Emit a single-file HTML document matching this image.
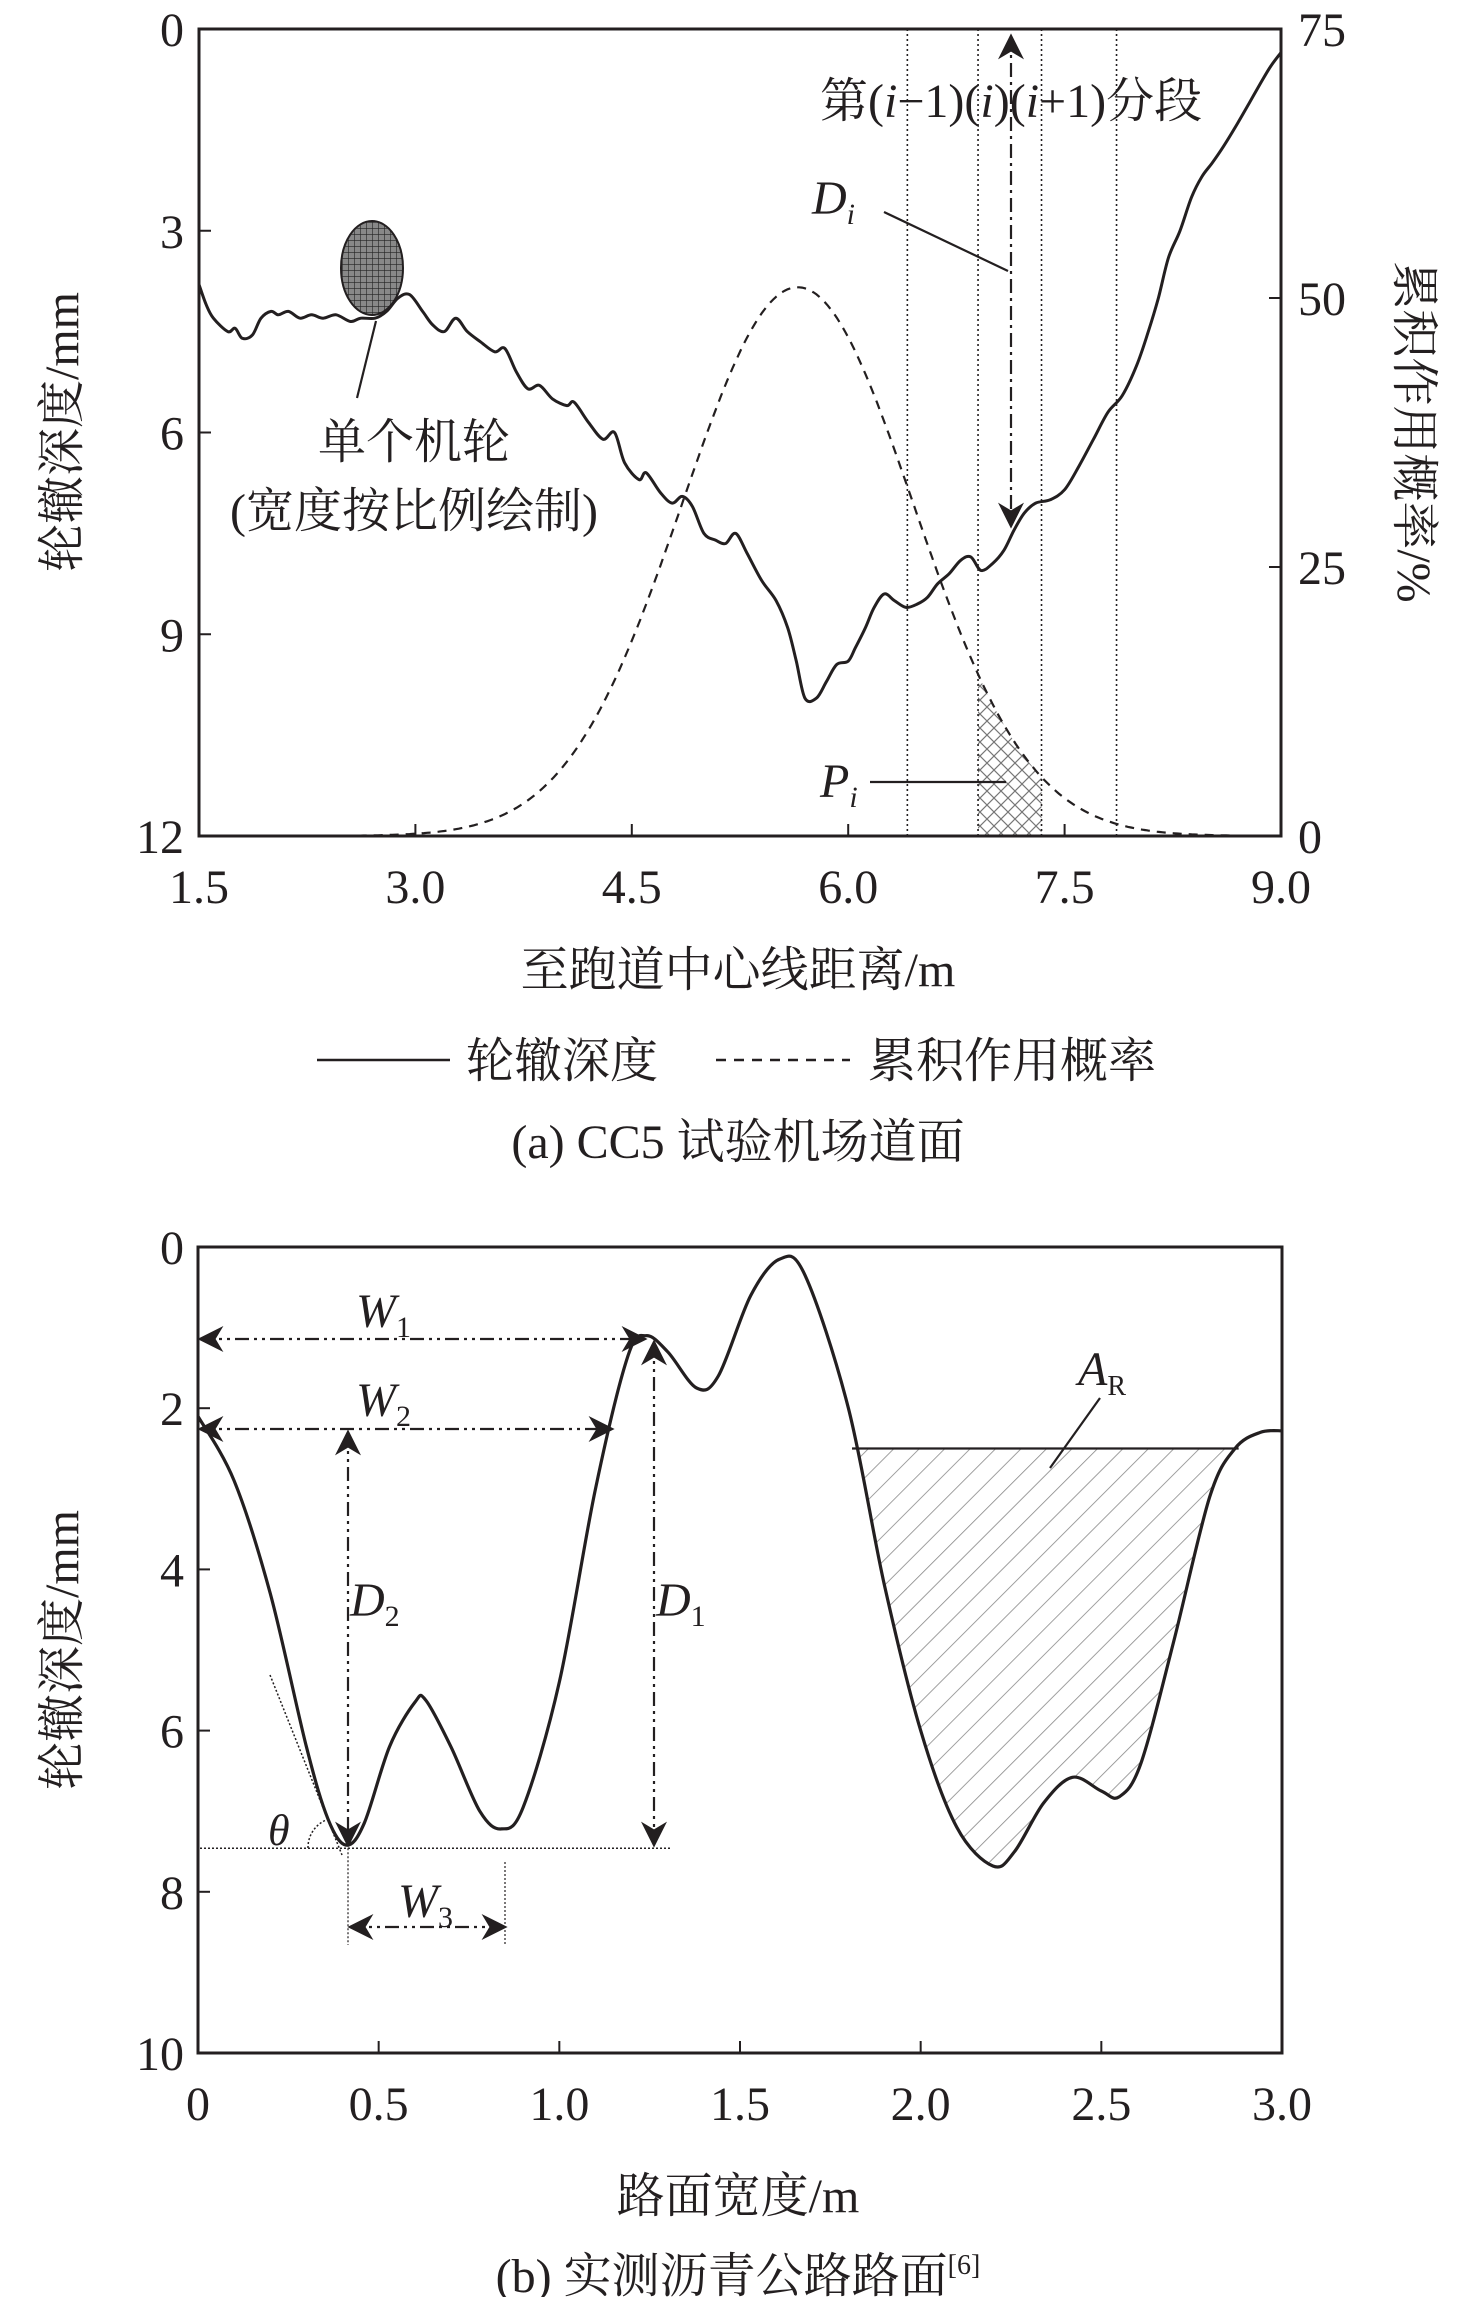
<!DOCTYPE html>
<html><head><meta charset="utf-8">
<style>
html,body{margin:0;padding:0;background:#fff;}
svg{display:block;}
text{font-family:"Liberation Serif","Noto Serif CJK SC","Noto Sans CJK SC",serif;fill:#231f20;}
</style></head>
<body>
<svg id="s" width="1476" height="2297" viewBox="0 0 1476 2297" xmlns="http://www.w3.org/2000/svg">
<defs>
<pattern id="grid" width="6" height="6" patternUnits="userSpaceOnUse">
<rect width="6" height="6" fill="#888"/>
<path d="M0 0H6M0 0V6" stroke="#222" stroke-width="1.2"/>
</pattern>
<pattern id="xh" width="14" height="14" patternUnits="userSpaceOnUse">
<path d="M0 0L14 14M14 0L0 14" stroke="#777" stroke-width="1.2"/>
</pattern>
<pattern id="diag" width="18" height="18" patternUnits="userSpaceOnUse" patternTransform="rotate(45)">
<path d="M0 0V18" stroke="#888" stroke-width="1.6"/>
</pattern>
<marker id="ahb" viewBox="0 0 10 10" refX="9" refY="5" markerWidth="30" markerHeight="26" orient="auto-start-reverse" markerUnits="userSpaceOnUse">
<path d="M0 0L10 5L0 10L3 5Z" fill="#231f20"/>
</marker>
</defs>
<g id="a"></g>
<g id="b"></g>
</svg>
<script>
const NS="http://www.w3.org/2000/svg";
function el(p,t,a,txt){const e=document.createElementNS(NS,t);for(const k in a)e.setAttribute(k,a[k]);if(txt!==undefined)e.innerHTML=txt;p.appendChild(e);return e;}
function cr(pts){let d="M"+pts[0][0].toFixed(1)+" "+pts[0][1].toFixed(1);for(let i=0;i<pts.length-1;i++){const p0=pts[Math.max(0,i-1)],p1=pts[i],p2=pts[i+1],p3=pts[Math.min(pts.length-1,i+2)];const c1=[p1[0]+(p2[0]-p0[0])/6,p1[1]+(p2[1]-p0[1])/6],c2=[p2[0]-(p3[0]-p1[0])/6,p2[1]-(p3[1]-p1[1])/6];d+=`C${c1[0].toFixed(1)} ${c1[1].toFixed(1)} ${c2[0].toFixed(1)} ${c2[1].toFixed(1)} ${p2[0].toFixed(1)} ${p2[1].toFixed(1)}`;}return d;}
const A=document.getElementById("a"),B=document.getElementById("b");
const FS=48;
// ---------- Plot a ----------
const L=199,R=1281,T=29,Bt=836;
const xa=x=>L+(x-1.5)*(R-L)/7.5, ya=d=>T+d*(Bt-T)/12, yp=p=>Bt-p*(Bt-T)/75;
let g=[];for(let x=2.6;x<=9.0001;x+=0.02){g.push([xa(x),yp(51*Math.exp(-Math.pow(x-5.65,2)/(2*0.8*0.8)))]);}
let h=[[xa(6.9),Bt]];for(let x=6.9;x<=7.3401;x+=0.02)h.push([xa(x),yp(51*Math.exp(-Math.pow(x-5.65,2)/1.28))]);h.push([xa(7.34),Bt]);
el(A,"path",{d:"M"+h.map(p=>p[0].toFixed(1)+" "+p[1].toFixed(1)).join("L")+"Z",fill:"url(#xh)",stroke:"none"});
el(A,"path",{d:"M"+g.map(p=>p[0].toFixed(1)+" "+p[1].toFixed(1)).join("L"),fill:"none",stroke:"#231f20","stroke-width":2.2,"stroke-dasharray":"9 7"});
const rd=[[1.5,3.8],[1.55,4.1],[1.6,4.3],[1.7,4.5],[1.75,4.45],[1.8,4.6],[1.87,4.55],[1.93,4.3],[2.0,4.2],[2.05,4.25],[2.12,4.2],[2.2,4.3],[2.28,4.25],[2.36,4.3],[2.45,4.25],[2.55,4.35],[2.62,4.3],[2.72,4.3],[2.8,4.2],[2.88,4.0],[2.96,3.95],[3.05,4.2],[3.12,4.4],[3.2,4.5],[3.28,4.3],[3.36,4.5],[3.45,4.65],[3.55,4.8],[3.62,4.75],[3.7,5.1],[3.78,5.35],[3.86,5.3],[3.95,5.5],[4.05,5.6],[4.1,5.55],[4.2,5.85],[4.3,6.1],[4.38,6.0],[4.45,6.45],[4.55,6.7],[4.6,6.6],[4.7,6.9],[4.78,7.05],[4.85,6.95],[4.92,7.1],[5.0,7.5],[5.08,7.6],[5.15,7.65],[5.22,7.5],[5.3,7.8],[5.4,8.2],[5.5,8.5],[5.58,8.9],[5.64,9.4],[5.7,9.95],[5.78,9.95],[5.85,9.7],[5.92,9.45],[6.0,9.4],[6.05,9.2],[6.12,8.9],[6.18,8.6],[6.25,8.4],[6.32,8.5],[6.4,8.6],[6.48,8.55],[6.55,8.45],[6.62,8.25],[6.7,8.1],[6.78,7.9],[6.85,7.85],[6.92,8.05],[7.0,7.95],[7.08,7.75],[7.15,7.45],[7.22,7.2],[7.3,7.05],[7.4,7.0],[7.5,6.85],[7.6,6.5],[7.7,6.1],[7.8,5.7],[7.9,5.45],[8.0,5.0],[8.08,4.5],[8.15,4.0],[8.22,3.4],[8.3,3.0],[8.38,2.5],[8.45,2.2],[8.52,2.0],[8.6,1.75],[8.7,1.4],[8.78,1.1],[8.86,0.8],[8.93,0.55],[9.0,0.35]];
el(A,"path",{d:cr(rd.map(p=>[xa(p[0]),ya(p[1])])),fill:"none",stroke:"#231f20","stroke-width":3});
[6.41,6.9,7.34,7.86].forEach(x=>el(A,"line",{x1:xa(x),y1:T,x2:xa(x),y2:Bt,stroke:"#231f20","stroke-width":1.6,"stroke-dasharray":"2 3"}));
el(A,"line",{x1:1011,y1:36,x2:1011,y2:526,stroke:"#231f20","stroke-width":2.2,"stroke-dasharray":"14 5 3 5","marker-start":"url(#ahb)","marker-end":"url(#ahb)"});
el(A,"rect",{x:L,y:T,width:R-L,height:Bt-T,fill:"none",stroke:"#231f20","stroke-width":3});
[3,6,9].forEach(d=>el(A,"line",{x1:L,y1:ya(d),x2:L+12,y2:ya(d),stroke:"#231f20","stroke-width":2}));
[25,50].forEach(p=>el(A,"line",{x1:R,y1:yp(p),x2:R-12,y2:yp(p),stroke:"#231f20","stroke-width":2}));
[3.0,4.5,6.0,7.5].forEach(x=>el(A,"line",{x1:xa(x),y1:Bt,x2:xa(x),y2:Bt-12,stroke:"#231f20","stroke-width":2}));
[0,3,6,9,12].forEach(d=>el(A,"text",{x:184,y:ya(d)+17,"text-anchor":"end","font-size":FS},d));
[0,25,50,75].forEach(p=>el(A,"text",{x:1298,y:yp(p)+17,"font-size":FS},p));
["1.5","3.0","4.5","6.0","7.5","9.0"].forEach(s=>el(A,"text",{x:xa(+s),y:903,"text-anchor":"middle","font-size":FS},s));
el(A,"text",{x:738,y:986,"text-anchor":"middle","font-size":FS},"至跑道中心线距离/m");
el(A,"text",{transform:"translate(78,432) rotate(-90)","text-anchor":"middle","font-size":FS},"轮辙深度/mm");
el(A,"text",{transform:"translate(1398,432) rotate(90)","text-anchor":"middle","font-size":FS},"累积作用概率/%");
el(A,"ellipse",{cx:372,cy:268,rx:31,ry:47,fill:"url(#grid)",stroke:"#231f20","stroke-width":2});
el(A,"line",{x1:376,y1:321,x2:357,y2:398,stroke:"#231f20","stroke-width":2.2});
el(A,"text",{x:414,y:458,"text-anchor":"middle","font-size":FS},"单个机轮");
el(A,"text",{x:414,y:527,"text-anchor":"middle","font-size":FS},"(宽度按比例绘制)");
el(A,"text",{x:820,y:117,"font-size":FS},"第(<tspan font-style='italic'>i</tspan>−1)(<tspan font-style='italic'>i</tspan>)(<tspan font-style='italic'>i</tspan>+1)分段");
el(A,"text",{x:812,y:214,"font-size":FS,"font-style":"italic"},"D<tspan font-size='30' dy='10'>i</tspan>");
el(A,"line",{x1:884,y1:212,x2:1008,y2:271,stroke:"#231f20","stroke-width":2.2});
el(A,"text",{x:820,y:797,"font-size":FS,"font-style":"italic"},"P<tspan font-size='30' dy='10'>i</tspan>");
el(A,"line",{x1:870,y1:782,x2:1006,y2:782,stroke:"#231f20","stroke-width":2.2});
el(A,"line",{x1:317,y1:1060,x2:450,y2:1060,stroke:"#231f20","stroke-width":2.5});
el(A,"text",{x:466,y:1077,"font-size":FS},"轮辙深度");
el(A,"line",{x1:716,y1:1060,x2:850,y2:1060,stroke:"#231f20","stroke-width":2.5,"stroke-dasharray":"10 8"});
el(A,"text",{x:868,y:1077,"font-size":FS},"累积作用概率");
el(A,"text",{x:738,y:1158,"text-anchor":"middle","font-size":FS},"(a) CC5 试验机场道面");
// ---------- Plot b ----------
const L2=198,R2=1282,T2=1247,B2=2053;
const xb=x=>L2+x*(R2-L2)/3, yb=d=>T2+d*(B2-T2)/10;
const cb=[[0,2.1],[0.1,2.9],[0.2,4.3],[0.3,6.2],[0.36,7.1],[0.41,7.42],[0.46,7.15],[0.53,6.2],[0.6,5.65],[0.63,5.62],[0.7,6.2],[0.78,7.0],[0.84,7.22],[0.9,6.95],[1.0,5.4],[1.1,3.0],[1.19,1.35],[1.24,1.1],[1.3,1.3],[1.38,1.75],[1.44,1.6],[1.53,0.6],[1.61,0.15],[1.68,0.35],[1.8,2.0],[1.9,4.2],[2.0,6.0],[2.1,7.2],[2.2,7.68],[2.26,7.5],[2.34,6.9],[2.42,6.58],[2.5,6.75],[2.55,6.82],[2.61,6.4],[2.7,4.9],[2.8,3.1],[2.87,2.5],[2.94,2.3],[3.0,2.28]];
const pb=cr(cb.map(p=>[xb(p[0]),yb(p[1])]));
el(B,"clipPath",{id:"cc"}).innerHTML=`<path d="${pb} L${xb(3)} ${T2} L${xb(0)} ${T2}Z"/>`;
el(B,"rect",{x:xb(1.8),y:yb(2.5),width:xb(2.88)-xb(1.8),height:B2-yb(2.5),fill:"url(#diag)","clip-path":"url(#cc)"});
el(B,"line",{x1:xb(1.81),y1:yb(2.5),x2:xb(2.88),y2:yb(2.5),stroke:"#231f20","stroke-width":2.2});
el(B,"path",{d:pb,fill:"none",stroke:"#231f20","stroke-width":3.2});
el(B,"rect",{x:L2,y:T2,width:R2-L2,height:B2-T2,fill:"none",stroke:"#231f20","stroke-width":3});
[2,4,6,8].forEach(d=>el(B,"line",{x1:L2,y1:yb(d),x2:L2+12,y2:yb(d),stroke:"#231f20","stroke-width":2}));
[0.5,1,1.5,2,2.5].forEach(x=>el(B,"line",{x1:xb(x),y1:B2,x2:xb(x),y2:B2-12,stroke:"#231f20","stroke-width":2}));
[0,2,4,6,8,10].forEach(d=>el(B,"text",{x:184,y:yb(d)+17,"text-anchor":"end","font-size":FS},d));
["0","0.5","1.0","1.5","2.0","2.5","3.0"].forEach(s=>el(B,"text",{x:xb(+s),y:2120,"text-anchor":"middle","font-size":FS},s));
el(B,"text",{x:738,y:2212,"text-anchor":"middle","font-size":FS},"路面宽度/m");
el(B,"text",{transform:"translate(78,1650) rotate(-90)","text-anchor":"middle","font-size":FS},"轮辙深度/mm");
el(B,"text",{x:738,y:2292,"text-anchor":"middle","font-size":FS},"(b) 实测沥青公路路面<tspan font-size='28' dy='-18'>[6]</tspan>");
const dd={stroke:"#231f20","stroke-width":2.2,"stroke-dasharray":"14 5 3 5 3 5","marker-start":"url(#ahb)","marker-end":"url(#ahb)"};
el(B,"line",Object.assign({x1:200,y1:1339,x2:645,y2:1339},dd));
el(B,"line",Object.assign({x1:200,y1:1429,x2:612,y2:1429},dd));
el(B,"line",Object.assign({x1:348,y1:1432,x2:348,y2:1845},dd));
el(B,"line",Object.assign({x1:654,y1:1342,x2:654,y2:1845},dd));
el(B,"line",Object.assign({x1:350,y1:1927,x2:505,y2:1927},dd));
el(B,"line",{x1:200,y1:yb(7.46),x2:672,y2:yb(7.46),stroke:"#231f20","stroke-width":1.5,"stroke-dasharray":"2 2"});
el(B,"line",{x1:348,y1:yb(7.46),x2:348,y2:1945,stroke:"#231f20","stroke-width":1.2,"stroke-dasharray":"2 2"});
el(B,"line",{x1:505,y1:1862,x2:505,y2:1945,stroke:"#231f20","stroke-width":1.2,"stroke-dasharray":"2 2"});
el(B,"line",{x1:270,y1:1675,x2:342,y2:1855,stroke:"#231f20","stroke-width":1.5,"stroke-dasharray":"2 2"});
el(B,"path",{d:"M308 1848 A 30 30 0 0 1 326 1820",fill:"none",stroke:"#231f20","stroke-width":1.5,"stroke-dasharray":"2 2"});
el(B,"text",{x:356,y:1327,"font-size":FS,"font-style":"italic"},"W<tspan font-size='30' font-style='normal' dy='10'>1</tspan>");
el(B,"text",{x:356,y:1416,"font-size":FS,"font-style":"italic"},"W<tspan font-size='30' font-style='normal' dy='10'>2</tspan>");
el(B,"text",{x:350,y:1616,"font-size":FS,"font-style":"italic"},"D<tspan font-size='30' font-style='normal' dy='10'>2</tspan>");
el(B,"text",{x:656,y:1616,"font-size":FS,"font-style":"italic"},"D<tspan font-size='30' font-style='normal' dy='10'>1</tspan>");
el(B,"text",{x:398,y:1917,"font-size":FS,"font-style":"italic"},"W<tspan font-size='30' font-style='normal' dy='10'>3</tspan>");
el(B,"text",{x:268,y:1845,"font-size":44,"font-style":"italic"},"θ");
el(B,"text",{x:1078,y:1385,"font-size":FS,"font-style":"italic"},"A<tspan font-size='28' font-style='normal' dy='10'>R</tspan>");
el(B,"line",{x1:1100,y1:1398,x2:1050,y2:1468,stroke:"#231f20","stroke-width":2.2});
</script>
</body></html>
